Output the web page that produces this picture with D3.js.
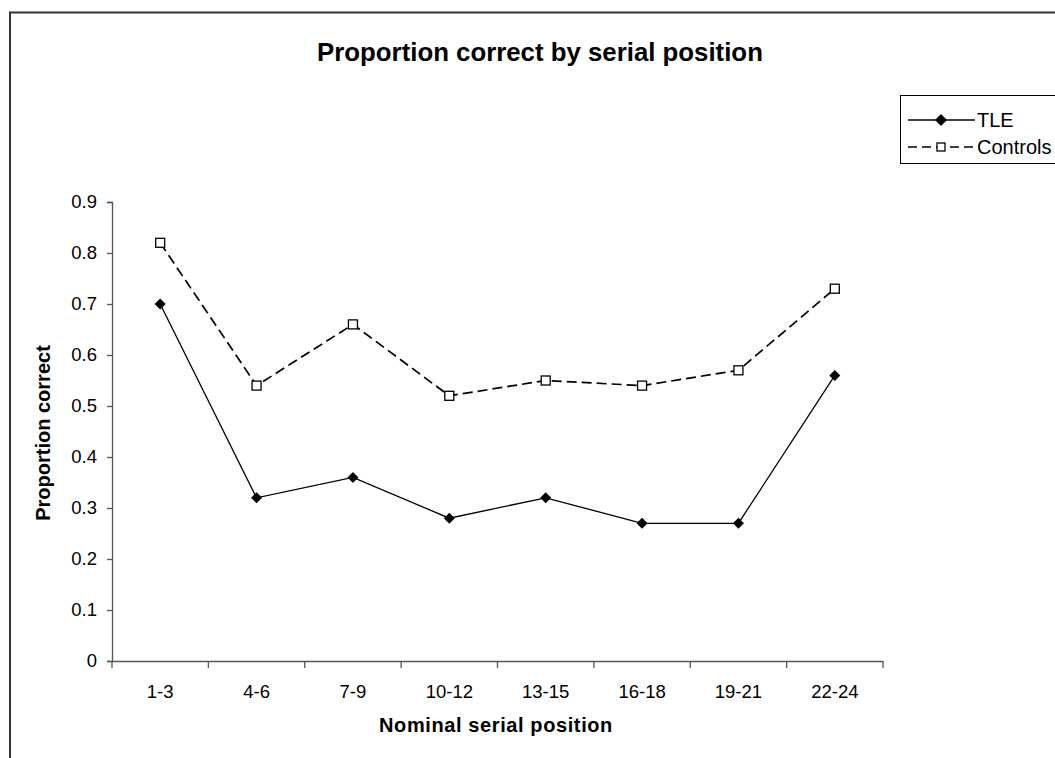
<!DOCTYPE html>
<html><head><meta charset="utf-8">
<script src="https://cdn.jsdelivr.net/npm/d3@7"></script>
<style>body{margin:0;background:#fff}svg{display:block}</style>
</head><body>
<svg id="c" width="1055" height="758"></svg>
<script>
const categories = ["1-3","4-6","7-9","10-12","13-15","16-18","19-21","22-24"];
const tleValues = [0.70,0.32,0.36,0.28,0.32,0.27,0.27,0.56];
const controlValues = [0.82,0.54,0.66,0.52,0.55,0.54,0.57,0.73];
const yTicks = [0,0.1,0.2,0.3,0.4,0.5,0.6,0.7,0.8,0.9];
const seriesNames = ["TLE","Controls"];

(function(){
const svg = d3.select("#c");
const font = "Liberation Sans, Arial, sans-serif";

svg.append("rect").attr("x",10).attr("y",12.5).attr("width",1100).attr("height",800)
  .attr("fill","#fff").attr("stroke","#333").attr("stroke-width",2);

const pLeft=112, pRight=883, pTop=202, pBottom=661;
const x = d3.scaleBand().domain(categories).range([pLeft,pRight]);
const y = d3.scaleLinear().domain([0,0.9]).range([pBottom,pTop]);

const yAxis = svg.append("g").attr("transform",`translate(${pLeft},0)`)
  .call(d3.axisLeft(y).tickValues(yTicks).tickSize(5).tickPadding(10).tickFormat(d=>d===0?"0":d3.format(".1f")(d)));
yAxis.select(".domain").attr("stroke","#555").attr("stroke-width",1.3);
yAxis.selectAll(".tick line").attr("stroke","#555").attr("stroke-width",1.3);
yAxis.selectAll("text").attr("font-family",font).attr("font-size",18.5).attr("fill","#000");

const xAxis = svg.append("g").attr("transform",`translate(0,${pBottom})`)
  .call(d3.axisBottom(x).tickSize(0).tickPadding(24));
xAxis.select(".domain").attr("stroke","#555").attr("stroke-width",1.3);
xAxis.selectAll("text").attr("font-family",font).attr("font-size",18.5).attr("fill","#000");
const bounds = categories.map(c=>x(c)).concat([pRight]);
xAxis.selectAll(".btick").data(bounds).enter().append("line")
  .attr("x1",d=>d).attr("x2",d=>d).attr("y1",0).attr("y2",7)
  .attr("stroke","#555").attr("stroke-width",1.3);

const cx = c => x(c)+x.bandwidth()/2;
const line = d3.line().x((d,i)=>cx(categories[i])).y(d=>y(d));

svg.append("path").datum(controlValues).attr("d",line).attr("fill","none")
  .attr("stroke","#000").attr("stroke-width",1.7).attr("stroke-dasharray","10,5");
svg.append("path").datum(tleValues).attr("d",line).attr("fill","none")
  .attr("stroke","#000").attr("stroke-width",1.3);

const diamond = (g,px,py)=>g.append("path")
  .attr("d",`M${px},${py-6}L${px+6},${py}L${px},${py+6}L${px-6},${py}Z`).attr("fill","#000");

svg.append("g").selectAll("rect").data(controlValues).enter().append("rect")
  .attr("x",(d,i)=>cx(categories[i])-4.5).attr("y",d=>y(d)-4.5).attr("width",9).attr("height",9)
  .attr("fill","#fff").attr("stroke","#000").attr("stroke-width",1.3);
svg.append("g").selectAll("path").data(tleValues).enter().append("path")
  .attr("d",(d,i)=>{const px=cx(categories[i]),py=y(d);return `M${px},${py-5.5}L${px+5.5},${py}L${px},${py+5.5}L${px-5.5},${py}Z`;})
  .attr("fill","#000");

svg.append("text").attr("x",540).attr("y",61).attr("text-anchor","middle")
  .attr("font-family",font).attr("font-weight","bold").attr("font-size",25.8).text("Proportion correct by serial position");
svg.append("text").attr("x",496).attr("y",732).attr("text-anchor","middle")
  .attr("font-family",font).attr("font-weight","bold").attr("font-size",20).attr("letter-spacing","0.6px").text("Nominal serial position");
svg.append("text").attr("transform","translate(50,433) rotate(-90)").attr("text-anchor","middle")
  .attr("font-family",font).attr("font-weight","bold").attr("font-size",20).text("Proportion correct");

const lg = svg.append("g");
lg.append("rect").attr("x",900.5).attr("y",95.5).attr("width",200).attr("height",68)
  .attr("fill","#fff").attr("stroke","#000").attr("stroke-width",1);
const rows=[120,147];
lg.append("line").attr("x1",908).attr("x2",975).attr("y1",rows[0]).attr("y2",rows[0]).attr("stroke","#000").attr("stroke-width",1.3);
diamond(lg,941,rows[0]);
lg.append("line").attr("x1",908).attr("x2",975).attr("y1",rows[1]).attr("y2",rows[1]).attr("stroke","#000").attr("stroke-width",1.7).attr("stroke-dasharray","9,5");
lg.append("rect").attr("x",937).attr("y",rows[1]-4).attr("width",8).attr("height",8).attr("fill","#fff").attr("stroke","#000").attr("stroke-width",1.3);
lg.selectAll("text.l").data(seriesNames).enter().append("text")
  .attr("x",977).attr("y",(d,i)=>rows[i]+7).attr("font-family",font).attr("font-size",20).text(d=>d);
})();
</script>
</body></html>
